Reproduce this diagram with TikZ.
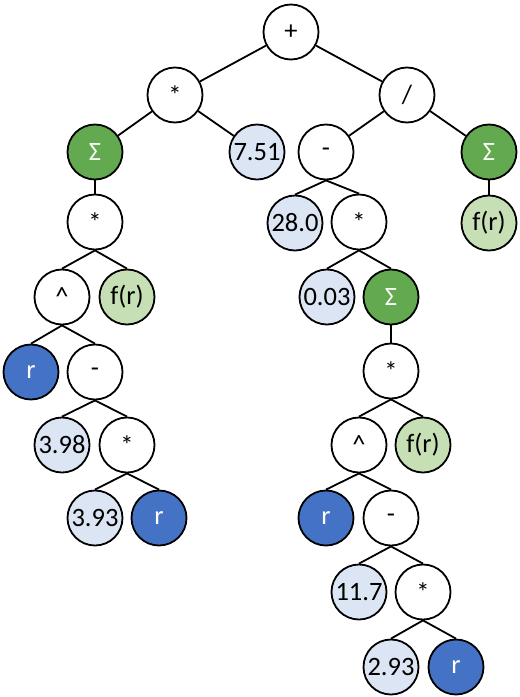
\documentclass[tikz,border=0pt]{standalone}
\usepackage{fontspec}
\setmainfont{Carlito}
\definecolor{sgreen}{HTML}{62A94F}
\definecolor{lgreen}{HTML}{C7DFB5}
\definecolor{lblue}{HTML}{DCE5F3}
\definecolor{dblue}{HTML}{4472C4}
\begin{document}
\begin{tikzpicture}[x=1pt,y=-1pt,
  nd/.style={circle,draw=black,line width=1.8pt,minimum size=55pt,inner sep=0pt,font=\fontsize{26.5}{28}\selectfont,fill=white},
  op/.style={nd},
  sig/.style={nd,fill=sgreen,text=white},
  fr/.style={nd,fill=lgreen},
  num/.style={nd,fill=lblue},
  var/.style={nd,fill=dblue,text=white},
  ln/.style={line width=1.8pt}]
\useasboundingbox (0,0) rectangle (520,697);
\node[op]  (plus) at (291,32) {+};
\node[op]  (m1)   at (175,95) {*};
\node[op]  (div)  at (407,95) {/};
\node[sig] (s1)   at (95,152) {Σ};
\node[num] (c751) at (257,152) {7.51};
\node[op]  (sub1) at (326,152) {-};
\node[sig] (s2)   at (489,152) {Σ};
\node[op]  (m2)   at (95,222) {*};
\node[num] (c280) at (295,223) {28.0};
\node[op]  (m3)   at (359,222) {*};
\node[fr]  (f1)   at (489,223) {f(r)};
\node[op]  (pw1)  at (62,297) {\^{}};
\node[fr]  (f2)   at (127,297) {f(r)};
\node[num] (c003) at (327,297) {0.03};
\node[sig] (s3)   at (391,297) {Σ};
\node[var] (r1)   at (31,372) {r};
\node[op]  (sub2) at (95,372) {-};
\node[op]  (m4)   at (391,371) {*};
\node[num] (c398) at (62,445) {3.98};
\node[op]  (m5)   at (127,445) {*};
\node[op]  (pw2)  at (359,445) {\^{}};
\node[fr]  (f3)   at (423,445) {f(r)};
\node[num] (c393) at (95,518) {3.93};
\node[var] (r2)   at (159,518) {r};
\node[var] (r3)   at (326,518) {r};
\node[op]  (sub3) at (391,518) {-};
\node[num] (c117) at (359,592) {11.7};
\node[op]  (m6)   at (423,592) {*};
\node[num] (c293) at (391,667) {2.93};
\node[var] (r4)   at (456,667) {r};
% edges
\draw[ln] (plus) -- (m1);
\draw[ln] (plus) -- (div);
\draw[ln] (m1) -- (s1);
\draw[ln] (m1) -- (c751);
\draw[ln] (div) -- (sub1);
\draw[ln] (div) -- (s2);
\draw[ln] (s1.south) -- (m2.north);
\draw[ln] (s2.south) -- (f1.north);
\draw[ln] (sub1.south) -- (c280.north);
\draw[ln] (sub1.south) -- (m3.north);
\draw[ln] (m2.south) -- (pw1.north);
\draw[ln] (m2.south) -- (f2.north);
\draw[ln] (m3.south) -- (c003.north);
\draw[ln] (m3.south) -- (s3.north);
\draw[ln] (pw1.south) -- (r1.north);
\draw[ln] (pw1.south) -- (sub2.north);
\draw[ln] (s3.south) -- (m4.north);
\draw[ln] (sub2.south) -- (c398.north);
\draw[ln] (sub2.south) -- (m5.north);
\draw[ln] (m4.south) -- (pw2.north);
\draw[ln] (m4.south) -- (f3.north);
\draw[ln] (m5.south) -- (c393.north);
\draw[ln] (m5.south) -- (r2.north);
\draw[ln] (pw2.south) -- (r3.north);
\draw[ln] (pw2.south) -- (sub3.north);
\draw[ln] (sub3.south) -- (c117.north);
\draw[ln] (sub3.south) -- (m6.north);
\draw[ln] (m6.south) -- (c293.north);
\draw[ln] (m6.south) -- (r4.north);
\end{tikzpicture}
\end{document}
